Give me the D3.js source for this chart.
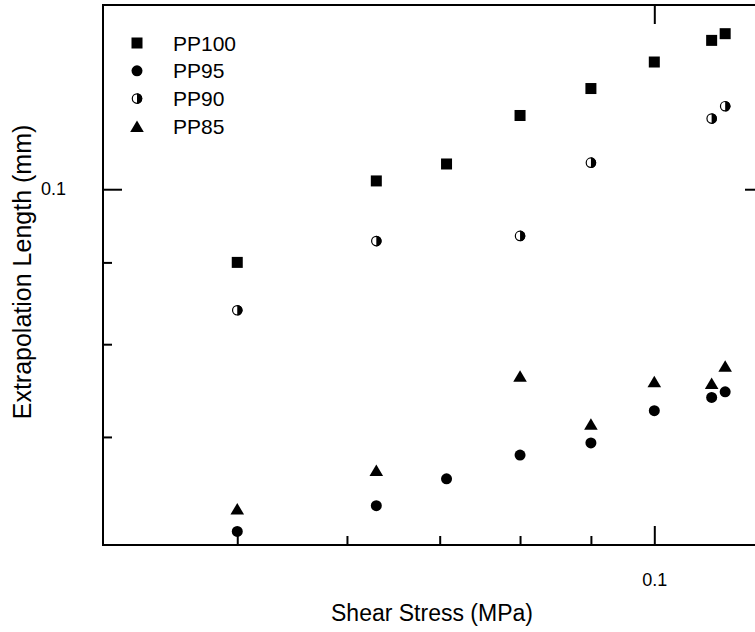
<!DOCTYPE html>
<html>
<head>
<meta charset="utf-8">
<script src="https://d3js.org/d3.v7.min.js"></script>
<style>
    body { margin: 0; background: white; }
    text { font-family: "Liberation Sans", Arial, sans-serif; fill: black; }
</style>
</head>
<body>
<script>
var SC = {};     // chart-global scope

/* Data (shear stress in MPa, extrapolation length in mm) */
var stressPP100 = [0.05, 0.063, 0.0708, 0.08, 0.09, 0.1, 0.11, 0.1125];
var lenPP100    = [0.0900, 0.1012, 0.1037, 0.1112, 0.1156, 0.1201, 0.1239, 0.1251];

var stressPP95  = [0.05, 0.063, 0.0708, 0.08, 0.09, 0.1, 0.11, 0.1125];
var lenPP95     = [0.0611, 0.0634, 0.0659, 0.0682, 0.0694, 0.0727, 0.0741, 0.0747];

var stressPP90  = [0.05, 0.063, 0.08, 0.09, 0.11, 0.1125];
var lenPP90     = [0.0840, 0.0928, 0.0935, 0.1039, 0.1107, 0.1127];

var stressPP85  = [0.05, 0.063, 0.08, 0.09, 0.1, 0.11, 0.1125];
var lenPP85     = [0.0631, 0.0667, 0.0764, 0.0713, 0.0758, 0.0756, 0.0775];

var seriesNames = ["PP100", "PP95", "PP90", "PP85"];
var seriesShapes = ["square", "circle", "half", "triangle"];

var xMinorTicks = [0.05, 0.06, 0.07, 0.08, 0.09];
var xMajorTicks = [0.1];
var yMinorTicks = [0.07, 0.08, 0.09];
var yMajorTicks = [0.1];

SC.width = 755;
SC.height = 632;
SC.frame = { left: 103, right: 764, top: 5, bottom: 545 };

SC.svg = d3.select("body").append("svg")
    .attr("width", SC.width)
    .attr("height", SC.height);

SC.x = d3.scaleLog()
    .domain([0.04, 0.12])
    .range([SC.frame.left, SC.frame.right]);

SC.y = d3.scaleLog()
    .domain([0.06, 0.13])
    .range([544, 7]);

/* frame */
SC.svg.append("rect")
    .attr("x", SC.frame.left)
    .attr("y", SC.frame.top)
    .attr("width", SC.frame.right - SC.frame.left)
    .attr("height", SC.frame.bottom - SC.frame.top)
    .style("fill", "none")
    .style("stroke", "black")
    .style("stroke-width", 2);

/* axes, ticks pointing in */
SC.fmt = function(d) { return "0.1"; };

SC.svg.append("g")
    .attr("transform", "translate(0," + SC.frame.bottom + ")")
    .call(d3.axisBottom(SC.x).tickValues(xMinorTicks).tickSizeInner(-9).tickSizeOuter(0).tickFormat(""));
SC.svg.append("g")
    .attr("class", "xmajor")
    .attr("transform", "translate(0," + SC.frame.bottom + ")")
    .call(d3.axisBottom(SC.x).tickValues(xMajorTicks).tickSizeInner(-19).tickSizeOuter(0)
        .tickPadding(28).tickFormat(SC.fmt));
SC.svg.append("g")
    .attr("transform", "translate(0," + SC.frame.top + ")")
    .call(d3.axisTop(SC.x).tickValues(xMajorTicks).tickSizeInner(-19).tickSizeOuter(0).tickFormat(""));

SC.svg.append("g")
    .attr("transform", "translate(" + SC.frame.left + ",0)")
    .call(d3.axisLeft(SC.y).tickValues(yMinorTicks).tickSizeInner(-9).tickSizeOuter(0).tickFormat(""));
SC.svg.append("g")
    .attr("class", "ymajor")
    .attr("transform", "translate(" + SC.frame.left + ",0)")
    .call(d3.axisLeft(SC.y).tickValues(yMajorTicks).tickSizeInner(-19).tickSizeOuter(0)
        .tickPadding(37).tickFormat(SC.fmt));
SC.svg.append("g")
    .attr("transform", "translate(" + SC.frame.right + ",0)")
    .call(d3.axisRight(SC.y).tickValues(yMajorTicks).tickSizeInner(-19).tickSizeOuter(0).tickFormat(""));

SC.svg.selectAll(".domain").remove();
SC.svg.selectAll(".tick line").style("stroke", "black").style("stroke-width", 2);
SC.svg.selectAll(".xmajor text, .ymajor text")
    .style("font-size", "18px")
    .style("font-family", "Liberation Sans, Arial, sans-serif")
    .attr("fill", "black");

/* axis titles */
SC.svg.append("text")
    .attr("x", 432)
    .attr("y", 621)
    .attr("text-anchor", "middle")
    .style("font-size", "23px")
    .text("Shear Stress (MPa)");

SC.svg.append("text")
    .attr("transform", "translate(31,272) rotate(-90)")
    .attr("text-anchor", "middle")
    .style("font-size", "25px")
    .text("Extrapolation Length (mm)");

/* marker drawing */
SC.drawMarker = function(g, shape) {
    if (shape == "square") {
        g.append("rect").attr("x", -5.5).attr("y", -5.5).attr("width", 11).attr("height", 11)
            .style("fill", "black");
    }
    else if (shape == "circle") {
        g.append("circle").attr("r", 5.5).style("fill", "black");
    }
    else if (shape == "half") {
        g.append("circle").attr("r", 4.7)
            .style("fill", "white").style("stroke", "black").style("stroke-width", 1.2);
        g.append("path").attr("d", "M0,-5.3A5.3,5.3 0 0,1 0,5.3Z").style("fill", "black");
    }
    else {
        g.append("path").attr("d", "M0,-6L6.8,5.5L-6.8,5.5Z").style("fill", "black");
    }
};

SC.series = [
    { xs: stressPP100, ys: lenPP100 },
    { xs: stressPP95,  ys: lenPP95 },
    { xs: stressPP90,  ys: lenPP90 },
    { xs: stressPP85,  ys: lenPP85 }
];

SC.series.forEach(function(s, i) {
    var pts = s.xs.map(function(v, j) { return { x: v, y: s.ys[j] }; });
    SC.svg.append("g").selectAll("g")
        .data(pts)
        .enter()
        .append("g")
        .attr("transform", function(d) { return "translate(" + SC.x(d.x) + "," + SC.y(d.y) + ")"; })
        .each(function() { SC.drawMarker(d3.select(this), seriesShapes[i]); });
});

/* legend */
SC.legend = SC.svg.append("g").attr("transform", "translate(137,43)");
seriesNames.forEach(function(name, i) {
    var row = SC.legend.append("g").attr("transform", "translate(0," + (i * 27.8) + ")");
    SC.drawMarker(row, seriesShapes[i]);
    row.append("text")
        .attr("x", 36)
        .attr("y", 7.5)
        .style("font-size", "21px")
        .text(name);
});
</script>
</body>
</html>
